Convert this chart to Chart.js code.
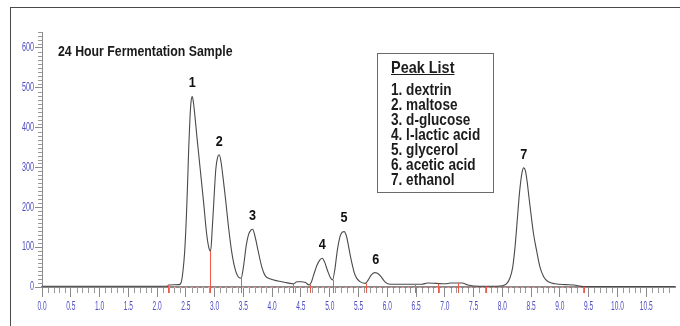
<!DOCTYPE html>
<html>
<head>
<meta charset="utf-8">
<script src="https://cdn.jsdelivr.net/npm/chart.js@4"></script>
<style>
  html, body { margin: 0; padding: 0; background: #fff; }
  #wrap { position: relative; width: 680px; height: 326px; overflow: hidden; }
  #frame { position: absolute; left: 10px; top: 7px; width: 690px; height: 340px;
           border: 1.5px solid #4a4a4a; box-sizing: border-box; pointer-events: none; }
  #title { position: absolute; left: 58px; top: 43px; font: bold 14px 'Liberation Sans', Arial, sans-serif;
           color: #1a1a1a; white-space: nowrap; transform: scaleX(0.88); transform-origin: 0 0; }
  #peaks { position: absolute; left: 377px; top: 53px; width: 117px; height: 140px; box-sizing: border-box;
           border: 1.5px solid #6a6a6a; }
  #peaks .inner { position: absolute; left: 13px; top: 5px; white-space: nowrap;
           font: bold 16px 'Liberation Sans', Arial, sans-serif; color: #1c1c1c; line-height: 15px;
           transform: scaleX(0.85); transform-origin: 0 0; }
  #peaks .head { font-size: 17px; text-decoration: underline; margin-bottom: 6px; line-height: 17px; }
  canvas { position: absolute; left: 0; top: 0; }
</style>
</head>
<body>
<div id="wrap">
  <canvas id="c" width="680" height="326"></canvas>
  <div id="title">24 Hour Fermentation Sample</div>
  <div id="peaks"><div class="inner"></div></div>
  <div id="frame"></div>
</div>
<script>
// retention time (min) and detector signal
const times = [0.00, 0.50, 1.00, 1.50, 2.00, 2.18, 2.20, 2.38, 2.42, 2.45, 2.48, 2.51, 2.53, 2.55, 2.57, 2.59, 2.61, 2.63, 2.65,
  2.69, 2.75, 2.81, 2.86, 2.90, 2.93, 2.96, 2.99, 3.02, 3.05, 3.08, 3.11, 3.15, 3.19, 3.24, 3.30, 3.36, 3.42, 3.46,
  3.50, 3.55, 3.59, 3.63, 3.66, 3.70, 3.76, 3.82, 3.88, 3.97, 4.10, 4.25, 4.37, 4.43, 4.50, 4.58, 4.64,
  4.68, 4.72, 4.78, 4.83, 4.87, 4.91, 4.96, 5.01, 5.05, 5.09, 5.13, 5.18, 5.22, 5.25, 5.29, 5.33, 5.37, 5.44, 5.52, 5.62,
  5.67, 5.72, 5.78, 5.82, 5.88, 5.96, 6.05, 6.30, 6.60, 6.70, 6.85, 7.00, 7.10, 7.30, 7.40, 7.60, 7.90,
  8.00, 8.07, 8.13, 8.18, 8.22, 8.26, 8.30, 8.34, 8.37, 8.40, 8.43, 8.46, 8.50, 8.54, 8.59, 8.65, 8.72, 8.80, 8.92,
  9.10, 9.24, 9.41, 10.0, 10.5, 11.0];
const signal = [2, 2, 2, 2, 2, 2, 5, 6, 12, 40, 90, 180, 260, 350, 420, 465, 478, 465, 440,
  380, 295, 210, 135, 98, 90, 150, 225, 295, 325, 332, 315, 270, 220, 152, 85, 43, 24, 22,
  50, 105, 132, 143, 145, 128, 88, 50, 28, 20, 15, 11, 8, 13, 13, 11, 5,
  12, 30, 55, 68, 72, 63, 42, 24, 18, 45, 90, 127, 138, 139, 128, 100, 70, 30, 14, 9,
  18, 30, 36, 35, 28, 13, 7, 7, 7, 10, 9, 8, 10, 10, 5, 2, 2,
  3, 8, 22, 50, 100, 170, 240, 286, 299, 292, 265, 228, 180, 135, 95, 52, 25, 13, 8,
  6, 5, 1, 1, 1, 1];

// peak apexes and names
const peakNumbers = ['1', '2', '3', '4', '5', '6', '7'];
const peakTimes = [2.61, 3.08, 3.66, 4.87, 5.25, 5.80, 8.37];
const peakHeights = [478, 332, 145, 72, 139, 36, 299];
const peakNames = ['dextrin', 'maltose', 'd-glucose', 'l-lactic acid', 'glycerol', 'acetic acid', 'ethanol'];

// integration markers (red drop lines)
const markerTimes = [2.19, 2.92, 3.46, 4.37, 4.65, 5.05, 5.63, 6.49, 6.89, 7.23, 7.72, 9.41];
const markerTops = [5, 90, 22, 8, 5, 18, 9, 7, 8, 10, 2, 1];

// axis ticks
const xTickValues = [0, 0.5, 1, 1.5, 2, 2.5, 3, 3.5, 4, 4.5, 5, 5.5, 6, 6.5, 7, 7.5, 8, 8.5, 9, 9.5, 10, 10.5];
const xTickLabels = ['0.0', '0.5', '1.0', '1.5', '2.0', '2.5', '3.0', '3.5', '4.0', '4.5', '5.0', '5.5', '6.0', '6.5',
  '7.0', '7.5', '8.0', '8.5', '9.0', '9.5', '10.0', '10.5'];
const yTickValues = [0, 100, 200, 300, 400, 500, 600];
const yTickLabels = ['0', '100', '200', '300', '400', '500', '600'];

const labelColor = '#4d4dc2';

// peak list box
document.querySelector('#peaks .inner').innerHTML = '<div class="head">Peak List</div>' +
  peakNames.map((n, i) => '<div>' + peakNumbers[i] + '. ' + n + '</div>').join('');

// narrow text helper
function narrowText(ctx, txt, x, y, align, squeeze) {
  ctx.save();
  ctx.translate(x, y);
  ctx.scale(squeeze, 1);
  ctx.textAlign = align;
  ctx.fillText(txt, 0, 0);
  ctx.restore();
}

const extras = {
  id: 'extras',
  afterDraw(chart) {
    const ctx = chart.ctx;
    const xs = chart.scales.x, ys = chart.scales.y;
    const y0 = ys.getPixelForValue(0);
    const x0 = xs.getPixelForValue(0);
    ctx.save();

    // minor ticks
    ctx.strokeStyle = '#9a9a9a';
    ctx.lineWidth = 1;
    ctx.beginPath();
    for (let i = 0; i <= 110; i++) {
      if (i % 5 === 0) continue;
      const px = Math.round(xs.getPixelForValue(i / 10)) + 0.5;
      ctx.moveTo(px, y0 + 1);
      ctx.lineTo(px, y0 + 6);
    }
    for (let v = 10; v <= 640; v += 10) {
      if (v % 100 === 0) continue;
      const py = Math.round(ys.getPixelForValue(v)) + 0.5;
      ctx.moveTo(x0 - 4, py);
      ctx.lineTo(x0, py);
    }
    ctx.stroke();

    // tick labels, condensed
    ctx.fillStyle = labelColor;
    ctx.font = "12px 'Liberation Sans', Arial, sans-serif";
    ctx.textBaseline = 'middle';
    xTickValues.forEach((v, i) => narrowText(ctx, xTickLabels[i], xs.getPixelForValue(v), 307, 'center', 0.55));
    yTickValues.forEach((v, i) => narrowText(ctx, yTickLabels[i], 34, ys.getPixelForValue(v), 'right', 0.6));

    // dashed integration baseline
    ctx.strokeStyle = '#f29a9a';
    ctx.setLineDash([2, 3.7]);
    ctx.beginPath();
    ctx.moveTo(xs.getPixelForValue(markerTimes[0]), y0 + 0.5);
    ctx.lineTo(xs.getPixelForValue(markerTimes[markerTimes.length - 1]), y0 + 0.5);
    ctx.stroke();
    ctx.setLineDash([]);

    // red drop lines
    ctx.strokeStyle = '#ee5a4a';
    ctx.beginPath();
    markerTimes.forEach((t, i) => {
      const px = Math.round(xs.getPixelForValue(t)) + 0.5;
      ctx.moveTo(px, ys.getPixelForValue(markerTops[i]));
      ctx.lineTo(px, y0 + 6);
    });
    ctx.stroke();

    // peak numbers
    ctx.fillStyle = '#111';
    ctx.font = "bold 14px 'Liberation Sans', Arial, sans-serif";
    peakNumbers.forEach((n, i) => {
      narrowText(ctx, n, xs.getPixelForValue(peakTimes[i]), ys.getPixelForValue(peakHeights[i]) - 13, 'center', 0.9);
    });
    ctx.restore();
  }
};

new Chart(document.getElementById('c'), {
  type: 'line',
  data: {
    datasets: [{
      data: times.map((t, i) => ({ x: t, y: signal[i] })),
      borderColor: '#4a4a4a',
      borderWidth: 1.1,
      pointRadius: 0,
      cubicInterpolationMode: 'monotone',
      fill: false
    }]
  },
  options: {
    responsive: false,
    animation: false,
    devicePixelRatio: 1,
    layout: { padding: { left: 0, top: 32, right: 5, bottom: 0 } },
    plugins: { legend: { display: false }, tooltip: { enabled: false } },
    scales: {
      x: {
        type: 'linear', min: 0, max: 11,
        afterBuildTicks: s => { s.ticks = xTickValues.map(v => ({ value: v })); },
        afterFit: s => { s.height = 39; },
        ticks: { display: false },
        grid: { drawOnChartArea: false, drawTicks: true, tickLength: 10, tickColor: '#8a8a8a' },
        border: { display: true, color: '#8a8a8a', width: 2 }
      },
      y: {
        type: 'linear', min: 0, max: 640,
        afterBuildTicks: s => { s.ticks = yTickValues.map(v => ({ value: v })); },
        afterFit: s => { s.width = 42; },
        ticks: { display: false },
        grid: { drawOnChartArea: false, drawTicks: true, tickLength: 7, tickColor: '#8a8a8a' },
        border: { display: true, color: '#8a8a8a', width: 1 }
      }
    }
  },
  plugins: [extras]
});
</script>
</body>
</html>
